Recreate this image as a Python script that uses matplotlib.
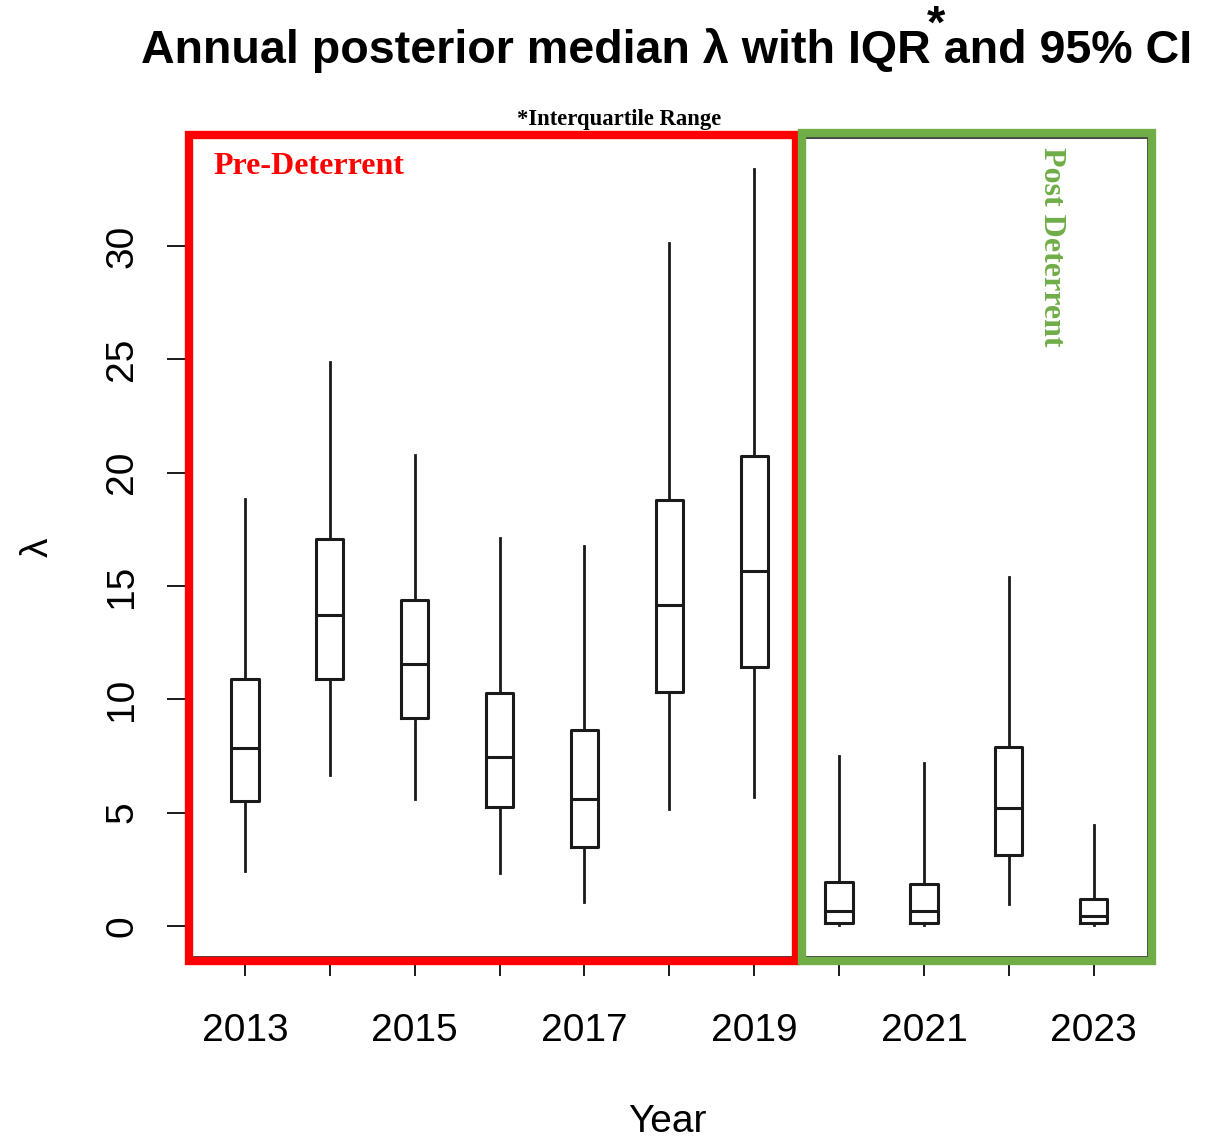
import matplotlib
matplotlib.use("Agg")
import matplotlib.pyplot as plt
from matplotlib.patches import Rectangle

# posterior summaries of lambda per year
years = [2013, 2014, 2015, 2016, 2017, 2018, 2019, 2020, 2021, 2022, 2023]
lo95 = [2.44, 6.66, 5.59, 2.35, 1.06, 5.15, 5.68, 0.02, 0.02, 0.96, 0.02]
q25 = [5.51, 10.91, 9.19, 5.26, 3.47, 10.34, 11.44, 0.12, 0.12, 3.13, 0.13]
med = [7.86, 13.72, 11.54, 7.44, 5.62, 14.16, 15.65, 0.66, 0.66, 5.19, 0.44]
q75 = [10.90, 17.07, 14.37, 10.26, 8.65, 18.79, 20.73, 1.96, 1.87, 7.90, 1.20]
hi95 = [18.82, 24.90, 20.78, 17.10, 16.76, 30.14, 33.38, 7.50, 7.18, 15.40, 4.47]
yticks = [0, 5, 10, 15, 20, 25, 30]
xlabels = [str(y) if y % 2 == 1 else "" for y in years]

sans = "Liberation Sans"
serif = "Liberation Serif"
green = "#70AD47"

W, H = 1206, 1141
fig = plt.figure(figsize=(W / 100, H / 100), dpi=100)
ax = fig.add_axes([186 / W, 1 - 957 / H, (1148 - 186) / W, (957 - 138) / H])

stats = []
for i in range(len(years)):
    stats.append({"whislo": lo95[i], "q1": q25[i], "med": med[i],
                  "q3": q75[i], "whishi": hi95[i], "fliers": []})

ax.bxp(stats, positions=years, widths=0.32, showfliers=False, showcaps=False,
       boxprops=dict(color="#1a1a1a", lw=2.2),
       whiskerprops=dict(color="#1a1a1a", lw=2.0),
       medianprops=dict(color="#1a1a1a", lw=2.2))

ax.set_xlim(2012.305, 2023.64)
ax.set_ylim(-1.37, 34.76)
ax.set_xticks(years)
ax.set_xticklabels(xlabels, fontsize=28, family=sans)
ax.set_yticks(yticks)
ax.set_yticklabels([str(v) for v in yticks], fontsize=28, family=sans,
                   rotation=90, va="center")
ax.tick_params(axis="both", length=14, width=1.4, color="#1a1a1a")
ax.tick_params(axis="x", pad=26)
ax.tick_params(axis="y", pad=19)
for s in ax.spines.values():
    s.set_color("#333333")
    s.set_linewidth(1.3)

ax.set_xlabel("Year", fontsize=28, family=sans, labelpad=40)
ax.set_ylabel("λ", fontsize=28, family=sans, labelpad=35)

# highlight boxes for the two periods
ax.add_patch(Rectangle((0.0036, -0.0049), 0.634 - 0.0036, 1.0037 + 0.0049,
                       transform=ax.transAxes, fill=False, ec="#FF0000",
                       lw=6, clip_on=False, zorder=5))
ax.add_patch(Rectangle((0.6403, -0.0049), 1.0042 - 0.6403, 1.0061 + 0.0049,
                       transform=ax.transAxes, fill=False, ec=green,
                       lw=6, clip_on=False, zorder=5))

fig.text(213 / W, 1 - 167 / H, "Pre-Deterrent", color="#FF0000", fontsize=23,
         family=serif, weight="bold", ha="left", va="center")
fig.text(1051 / W, 1 - 247 / H, "Post Deterrent", color=green, fontsize=23,
         family=serif, weight="bold", ha="center", va="center", rotation=-90)
fig.text(619 / W, 1 - 119 / H, "*Interquartile Range", color="black",
         fontsize=16.3, family=serif, weight="bold", ha="center", va="center")

fig.text(667 / W, 1 - 63 / H, "Annual posterior median λ with IQR and 95% CI",
         fontsize=33.6, family=sans, weight="bold", ha="center", va="baseline")
fig.text(936 / W, 1 - 4 / H, "*", fontsize=34, family=sans, weight="bold",
         ha="center", va="top")

fig.savefig("out.png", dpi=100, facecolor="white")
